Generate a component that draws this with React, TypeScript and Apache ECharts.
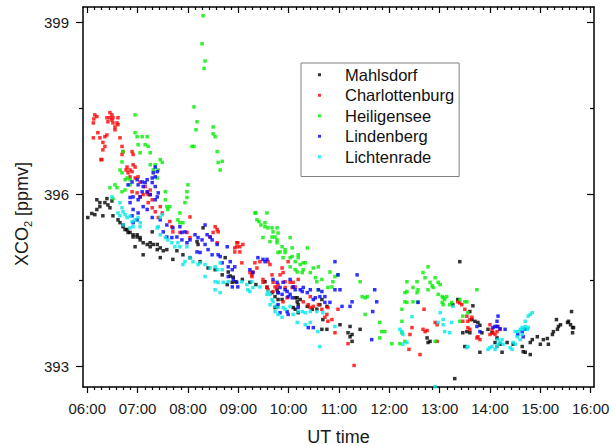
import React, { useEffect, useRef } from "react";
import * as echarts from "echarts";

// time in decimal hours (UT), XCO2 in ppmv
const seriesNames = ["Mahlsdorf", "Charlottenburg", "Heiligensee", "Lindenberg", "Lichtenrade"];
const seriesColors = ["#000000", "#ff0000", "#00ee00", "#0000ff", "#00e8e8"];

const xTickHours = [6, 7, 8, 9, 10, 11, 12, 13, 14, 15, 16];
const yTickValues = [393, 396, 399];
const yMinorValues = [394.5, 397.5];

const mahlsdorf: [number, number][] = [
  [6.01, 395.59], [6.09, 395.66], [6.15, 395.64], [6.19, 395.9], [6.19, 395.73], [6.25, 395.85], [6.25, 395.78],
  [6.31, 395.62], [6.35, 395.85], [6.39, 395.92], [6.41, 395.81], [6.45, 395.76], [6.49, 395.88], [6.51, 395.62],
  [6.61, 395.55], [6.65, 395.5], [6.71, 395.46], [6.71, 395.43], [6.75, 395.38], [6.79, 395.38], [6.81, 395.33],
  [6.85, 395.33], [6.91, 395.29], [6.91, 395.25], [6.95, 395.08], [6.99, 395.25], [6.99, 395.29], [7.05, 395.2],
  [7.05, 395.24], [7.11, 395.15], [7.11, 394.94], [7.19, 395.12], [7.25, 395.08], [7.25, 395.15], [7.29, 395.34],
  [7.31, 395.12], [7.39, 395.03], [7.39, 395.12], [7.45, 395.06], [7.45, 394.89], [7.51, 395.01], [7.58, 395.03],
  [7.7, 394.86], [7.78, 395.01], [7.9, 394.94], [8.04, 394.89], [8.18, 395.17], [8.2, 395.12], [8.24, 394.82],
  [8.3, 395.41], [8.4, 394.71], [8.54, 394.68], [8.68, 394.59], [8.74, 394.89], [8.8, 394.64], [8.84, 394.57],
  [8.9, 394.55], [8.88, 394.46], [8.78, 394.42], [8.95, 394.47], [9.08, 394.51], [9.23, 394.46], [9.35, 394.42],
  [9.53, 394.47], [9.57, 394.37], [9.67, 394.28], [9.73, 394.21], [9.77, 394.33], [9.79, 394.28], [9.79, 394.16],
  [9.73, 394.02], [9.87, 394.16], [9.77, 394.04], [10.09, 394.02], [10.13, 394.19], [10.17, 394.19], [10.17, 394.12],
  [10.19, 394.07], [10.19, 393.93], [10.13, 393.99], [10.23, 394.16], [10.37, 394.04], [10.47, 393.99], [10.56, 393.99],
  [10.62, 394.07], [10.66, 394.16], [10.76, 394.04], [10.68, 393.81], [10.66, 393.64], [10.76, 393.64], [11.02, 393.72],
  [11.18, 393.58], [11.22, 393.69], [11.26, 393.55], [11.22, 393.51], [11.26, 393.43], [11.42, 393.64], [12.75, 393.49],
  [12.77, 393.41], [12.81, 393.43], [13.26, 394.07], [13.3, 392.78], [13.36, 394.16], [13.4, 394.82], [13.46, 393.58],
  [13.5, 393.34], [13.54, 393.6], [13.6, 393.95], [13.6, 393.58], [13.64, 393.81], [13.66, 394.05], [13.7, 393.78],
  [13.76, 393.76], [13.8, 393.71], [13.8, 393.24], [13.84, 393.58], [13.96, 393.64], [14.04, 393.58], [14.1, 393.41],
  [14.14, 393.49], [14.2, 393.38], [14.24, 393.24], [14.34, 393.41], [14.46, 393.38], [14.64, 393.34], [14.66, 393.25],
  [14.7, 393.24], [14.8, 393.2], [14.8, 393.41], [14.84, 393.46], [14.94, 393.51], [15.0, 393.38], [15.06, 393.46],
  [15.14, 393.48], [15.16, 393.38], [15.24, 393.55], [15.26, 393.6], [15.34, 393.64], [15.36, 393.69], [15.32, 393.81],
  [15.4, 393.72], [15.54, 393.76], [15.56, 393.78], [15.6, 393.72], [15.62, 393.95], [15.64, 393.67], [15.66, 393.67],
  [15.64, 393.58],
];

const charlottenburg: [number, number][] = [
  [6.12, 397.24], [6.15, 397.38], [6.19, 397.35], [6.13, 397.31], [6.12, 396.98], [6.21, 397.07], [6.25, 396.98],
  [6.27, 396.6], [6.31, 396.77], [6.31, 396.9], [6.35, 396.83], [6.35, 397.0], [6.39, 397.03], [6.39, 397.33],
  [6.41, 397.26], [6.45, 397.42], [6.45, 397.33], [6.49, 397.38], [6.49, 397.29], [6.51, 397.33], [6.51, 397.24],
  [6.55, 397.17], [6.55, 397.12], [6.59, 397.24], [6.61, 397.21], [6.61, 397.33], [6.29, 396.6], [6.65, 396.98],
  [6.69, 396.83], [6.71, 396.74], [6.69, 396.69], [6.89, 396.74], [6.91, 396.69], [6.77, 396.42], [6.79, 396.47],
  [6.81, 396.37], [6.85, 396.42], [6.89, 396.39], [6.91, 396.51], [6.95, 396.47], [6.85, 396.3], [6.95, 396.28],
  [7.01, 396.3], [6.89, 396.04], [6.99, 396.02], [7.05, 396.21], [7.05, 395.95], [7.11, 395.99], [7.15, 396.13],
  [7.19, 396.02], [7.21, 395.99], [7.25, 396.07], [7.25, 395.99], [7.29, 395.9], [7.21, 395.85], [7.29, 395.76],
  [7.35, 395.69], [7.45, 395.78], [7.49, 395.67], [7.41, 395.59], [7.64, 395.52], [7.68, 395.43], [7.7, 395.34],
  [7.84, 395.33], [7.98, 395.33], [8.04, 395.6], [8.04, 395.24], [8.5, 395.33], [8.54, 395.43], [8.58, 395.38],
  [8.44, 395.25], [8.6, 395.34], [8.58, 395.15], [8.93, 395.06], [8.93, 394.99], [8.97, 395.15], [8.97, 395.08],
  [8.99, 395.15], [9.03, 395.08], [9.03, 394.99], [9.09, 395.12], [9.07, 394.8], [9.23, 394.63], [9.27, 394.59],
  [9.27, 394.56], [9.29, 394.64], [9.33, 394.8], [9.37, 394.71], [9.43, 394.82], [9.49, 394.51], [9.49, 394.46],
  [9.57, 394.38], [9.59, 394.82], [9.63, 394.77], [9.59, 394.33], [9.67, 394.59], [9.69, 394.46], [9.69, 394.3],
  [9.73, 394.38], [9.77, 394.37], [9.79, 394.42], [9.83, 394.59], [9.87, 394.71], [9.89, 394.63], [9.93, 394.47],
  [9.93, 394.37], [9.99, 394.82], [10.03, 394.46], [10.07, 394.37], [10.09, 394.46], [10.13, 394.38], [10.19, 394.51],
  [9.89, 394.12], [9.97, 394.19], [10.29, 394.12], [10.39, 394.07], [10.43, 394.02], [10.49, 394.04], [10.43, 394.21],
  [10.59, 394.07], [10.66, 393.99], [10.78, 394.02], [10.76, 393.9], [10.72, 393.85], [10.78, 393.78], [10.86, 393.81],
  [10.92, 393.58], [10.98, 393.99], [11.18, 393.39], [11.3, 393.01], [12.39, 393.29], [12.61, 393.2], [12.41, 393.55],
  [12.45, 393.67], [12.67, 393.64], [12.71, 393.6], [12.75, 393.62], [12.69, 393.99], [12.91, 393.76], [12.95, 393.72],
  [12.95, 393.43], [13.36, 394.12], [13.4, 394.1], [13.44, 394.07], [13.5, 393.99], [13.54, 393.87], [13.6, 393.81],
  [13.56, 393.78], [13.64, 393.85], [13.46, 393.78], [13.56, 393.67], [13.6, 393.64], [13.74, 393.49], [13.76, 393.51],
  [13.8, 393.46], [14.0, 393.72], [14.0, 393.55], [14.04, 393.64], [14.06, 393.58], [14.1, 393.55], [14.14, 393.6],
  [14.16, 393.69], [14.2, 393.64], [14.14, 393.34],
];

const heiligensee: [number, number][] = [
  [8.3, 399.11], [8.28, 398.62], [8.34, 398.32], [8.32, 398.19], [8.12, 397.52], [8.18, 397.26], [8.16, 397.12],
  [8.5, 397.17], [8.5, 397.05], [8.54, 397.0], [8.08, 396.83], [8.12, 396.83], [8.58, 396.74], [8.6, 396.55],
  [8.68, 396.57], [8.64, 396.42], [6.95, 397.38], [6.95, 397.07], [6.99, 397.0], [7.09, 397.0], [7.19, 397.0],
  [7.15, 396.86], [7.01, 396.86], [7.21, 396.83], [7.05, 396.72], [7.25, 396.72], [6.71, 396.74], [6.69, 396.56],
  [6.65, 396.42], [7.25, 396.51], [7.35, 396.51], [7.45, 396.6], [7.49, 396.55], [7.41, 396.42], [7.31, 396.42],
  [6.69, 396.37], [6.55, 396.16], [6.45, 396.11], [6.59, 396.11], [6.51, 395.92], [6.69, 396.04], [6.75, 396.07],
  [6.85, 396.16], [6.75, 396.25], [6.79, 396.28], [6.85, 396.25], [7.39, 396.28], [7.55, 396.04], [7.55, 395.9],
  [7.58, 395.78], [7.6, 395.73], [7.64, 395.78], [7.84, 395.67], [7.8, 395.55], [7.84, 395.5], [7.9, 395.5],
  [7.94, 395.85], [7.98, 395.94], [7.98, 396.04], [8.0, 396.16], [9.35, 395.67], [9.37, 395.55], [9.41, 395.52],
  [9.57, 395.67], [9.33, 395.67], [9.45, 395.46], [9.53, 395.5], [9.53, 395.43], [9.59, 395.41], [9.67, 395.41],
  [9.69, 395.34], [9.77, 395.41], [9.73, 395.25], [9.79, 395.32], [9.77, 395.2], [9.67, 395.25], [9.49, 395.24],
  [9.63, 395.17], [9.77, 395.15], [9.87, 395.08], [9.83, 394.99], [9.93, 394.98], [9.89, 394.89], [10.07, 394.91],
  [10.13, 394.82], [10.03, 394.73], [10.13, 394.68], [10.17, 394.64], [10.27, 394.63], [10.29, 394.8], [10.19, 394.94],
  [10.03, 395.24], [9.79, 394.98], [9.93, 395.03], [10.07, 395.06], [10.03, 394.89], [10.19, 394.89], [10.23, 394.77],
  [10.33, 394.8], [10.37, 395.06], [10.29, 394.68], [10.49, 394.71], [10.59, 394.73], [10.43, 394.63], [10.53, 394.54],
  [10.56, 394.47], [10.66, 394.51], [10.82, 394.64], [10.92, 394.56], [10.88, 394.47], [10.98, 394.59], [10.86, 394.38],
  [10.78, 394.37], [10.59, 394.33], [11.42, 394.47], [11.52, 394.19], [11.46, 394.21], [11.56, 394.21], [11.52, 393.9],
  [11.81, 393.76], [11.85, 393.6], [11.91, 393.6], [11.81, 393.49], [12.05, 393.39], [12.21, 393.39], [12.31, 393.43],
  [12.25, 393.78], [12.25, 393.58], [12.25, 393.99], [12.31, 394.28], [12.35, 394.47], [12.31, 394.12], [12.35, 394.3],
  [12.35, 394.11], [12.47, 394.37], [12.55, 394.47], [12.57, 394.33], [12.55, 394.28], [12.47, 394.12], [12.57, 394.12],
  [12.67, 394.63], [12.71, 394.54], [12.77, 394.73], [12.81, 394.46], [12.85, 394.4], [12.87, 394.37], [12.77, 394.33],
  [12.91, 394.54], [12.97, 394.46], [13.01, 394.42], [12.97, 394.25], [13.05, 394.21], [13.07, 394.19], [13.1, 394.16],
  [13.14, 394.21], [13.05, 394.11], [13.07, 394.07], [13.2, 394.07], [13.24, 394.11], [13.4, 394.16], [13.5, 394.12],
  [13.54, 394.12], [13.56, 393.93], [13.46, 393.87], [13.4, 393.78], [13.74, 394.33], [12.91, 393.43],
];

const lindenberg: [number, number][] = [
  [6.81, 396.16], [6.89, 396.21], [6.99, 396.25], [7.09, 396.21], [7.15, 396.2], [7.19, 396.25], [7.29, 396.2],
  [7.31, 396.37], [7.35, 396.3], [7.35, 396.47], [7.39, 396.39], [7.29, 396.28], [7.01, 396.16], [7.11, 396.13],
  [7.35, 396.13], [7.09, 396.04], [7.19, 396.04], [7.05, 395.95], [7.25, 395.99], [6.91, 395.95], [6.85, 395.94],
  [7.39, 395.95], [7.35, 395.9], [7.01, 395.9], [7.41, 396.02], [7.11, 395.78], [6.91, 395.73], [7.01, 395.67],
  [6.85, 395.85], [7.19, 395.73], [6.89, 395.62], [6.99, 395.55], [6.91, 395.5], [7.29, 395.59], [7.45, 395.55],
  [7.58, 395.46], [7.7, 395.41], [7.51, 395.34], [7.58, 395.25], [7.68, 395.24], [7.78, 395.25], [7.84, 395.43],
  [7.88, 395.33], [7.94, 395.34], [7.88, 395.2], [7.98, 395.15], [8.04, 395.2], [8.14, 395.29], [8.2, 395.24],
  [8.34, 395.46], [8.38, 395.29], [8.44, 395.25], [8.48, 395.2], [8.28, 395.2], [8.34, 395.12], [8.58, 395.12],
  [8.18, 394.99], [8.24, 394.98], [8.4, 395.03], [8.48, 394.94], [8.6, 394.94], [8.64, 394.91], [8.78, 395.08],
  [8.68, 394.8], [8.84, 394.82], [8.8, 394.73], [8.88, 394.68], [8.93, 394.73], [8.8, 394.56], [8.9, 394.51],
  [8.97, 394.46], [8.99, 394.38], [8.88, 394.38], [9.39, 394.89], [9.49, 394.86], [9.57, 394.86], [9.53, 394.82],
  [9.23, 394.68], [9.29, 394.63], [9.69, 394.51], [9.77, 394.46], [9.79, 394.28], [9.83, 394.37], [9.87, 394.25],
  [9.89, 394.46], [9.93, 394.33], [9.97, 394.3], [10.03, 394.51], [10.03, 394.25], [10.07, 394.19], [10.09, 394.38],
  [10.13, 394.33], [9.99, 394.21], [10.23, 394.33], [10.27, 394.3], [10.29, 394.37], [10.37, 394.28], [10.43, 394.33],
  [10.49, 394.16], [10.53, 394.19], [10.62, 394.21], [10.59, 394.33], [10.66, 394.3], [10.72, 394.21], [10.72, 394.11],
  [10.82, 394.11], [9.79, 394.07], [9.83, 393.93], [9.97, 393.95], [9.99, 393.9], [10.19, 394.02], [10.39, 393.67],
  [10.49, 393.67], [10.92, 394.82], [10.98, 394.59], [10.92, 394.33], [11.02, 394.33], [11.06, 394.04], [11.22, 394.04],
  [11.26, 394.12], [11.36, 394.59], [11.71, 394.33], [11.75, 394.12], [11.67, 393.95], [11.65, 393.46], [12.57, 394.11],
  [13.74, 393.69], [13.8, 393.6], [14.06, 393.67], [14.1, 393.69], [14.14, 393.78], [14.16, 393.87], [14.14, 393.69],
  [14.2, 393.65], [14.3, 393.64], [14.55, 393.55], [14.64, 393.6], [14.66, 393.51], [14.7, 393.64],
];

const lichtenrade: [number, number][] = [
  [6.49, 395.95], [6.61, 395.67], [6.65, 395.85], [6.69, 395.76], [6.71, 395.69], [6.65, 395.62], [6.75, 395.64],
  [6.79, 395.59], [6.85, 395.61], [6.89, 395.52], [6.95, 395.55], [7.01, 395.59], [7.05, 395.5], [6.71, 395.46],
  [6.85, 395.41], [6.91, 395.43], [7.05, 395.43], [7.39, 395.41], [7.41, 395.43], [7.45, 395.59], [7.49, 395.64],
  [7.45, 395.29], [7.55, 395.24], [7.6, 395.2], [7.68, 395.15], [7.74, 395.08], [7.8, 395.15], [7.84, 395.08],
  [7.98, 395.08], [7.94, 394.82], [7.9, 394.77], [8.04, 394.89], [8.1, 394.82], [8.2, 394.77], [8.24, 394.8],
  [8.34, 394.77], [8.44, 394.71], [8.54, 394.73], [8.64, 394.8], [8.58, 394.68], [8.68, 394.68], [8.54, 394.47],
  [8.6, 394.46], [8.7, 394.46], [8.34, 394.56], [8.54, 394.33], [8.64, 394.28], [8.8, 394.47], [9.07, 394.47],
  [9.17, 394.42], [9.19, 394.33], [9.29, 394.37], [9.23, 394.3], [9.27, 394.47], [9.43, 394.38], [9.57, 394.25],
  [9.59, 394.3], [9.63, 394.25], [9.67, 394.16], [9.69, 394.12], [9.63, 394.07], [9.73, 394.04], [9.79, 394.02],
  [9.89, 394.02], [10.03, 394.04], [9.73, 393.95], [9.79, 393.9], [9.87, 393.85], [9.93, 393.99], [10.09, 393.9],
  [10.19, 393.95], [10.27, 393.95], [10.33, 393.93], [10.43, 393.95], [10.56, 393.95], [10.68, 393.93], [10.43, 393.76],
  [10.33, 393.72], [10.17, 393.76], [10.58, 393.6], [10.92, 393.69], [10.62, 393.34], [12.21, 393.64], [12.25, 393.6],
  [12.27, 393.55], [12.35, 393.41], [12.27, 393.38], [12.45, 393.86], [12.91, 392.64], [13.01, 393.93], [12.97, 393.76],
  [13.07, 393.72], [13.07, 393.81], [13.1, 393.6], [13.2, 393.58], [13.24, 393.76], [13.26, 394.04], [13.54, 393.32],
  [13.56, 393.34], [13.96, 393.29], [14.0, 393.32], [14.04, 393.34], [14.1, 393.29], [14.14, 393.34], [14.16, 393.38],
  [14.2, 393.41], [14.24, 393.46], [14.16, 393.46], [14.26, 393.38], [14.4, 393.32], [14.44, 393.29], [14.5, 393.38],
  [14.46, 393.41], [14.54, 393.51], [14.5, 393.6], [14.56, 393.6], [14.6, 393.64], [14.64, 393.67], [14.66, 393.64],
  [14.7, 393.69], [14.74, 393.64], [14.76, 393.67], [14.7, 393.78], [14.76, 393.87], [14.8, 393.9], [14.84, 393.93],
  [14.64, 393.55], [14.6, 393.46],
];

const seriesData = [mahlsdorf, charlottenburg, heiligensee, lindenberg, lichtenrade];

const X_MIN = 5.915;
const X_MAX = 16.066;
const Y_MIN = 392.634;
const Y_MAX = 399.262;

const FONT = "'Liberation Sans', Arial, Helvetica, sans-serif";

export default function App() {
  const ref = useRef<HTMLDivElement>(null);

  useEffect(() => {
    if (!ref.current) return;
    const chart = echarts.init(ref.current, null, { renderer: "svg" });

    const xMinor: number[] = [];
    for (let i = 0; i < xTickHours.length - 1; i++) {
      for (let k = 1; k < 7; k++) xMinor.push(xTickHours[i] + k / 7);
    }
    const lineStyle = { color: "#000", width: 1.5 };
    const tickStyle = { color: "#000", width: 1.2 };

    const baseX = {
      type: "value" as const,
      min: X_MIN,
      max: X_MAX,
      splitLine: { show: false },
    };
    const baseY = {
      type: "value" as const,
      min: Y_MIN,
      max: Y_MAX,
      splitLine: { show: false },
    };

    const option: any = {
      animation: false,
      backgroundColor: "#ffffff",
      textStyle: { fontFamily: FONT },
      grid: { left: 83, top: 7, width: 511, height: 380, containLabel: false, outerBoundsMode: "none" },
      legend: {
        orient: "vertical",
        left: 301,
        top: 63,
        padding: [1.5, 5, 9.5, 17],
        itemGap: 0,
        itemWidth: 3,
        itemHeight: 3,
        icon: "rect",
        borderColor: "#808080",
        borderWidth: 1,
        selectedMode: false,
        data: seriesNames,
        textStyle: {
          fontFamily: FONT,
          fontSize: 16.5,
          color: "#111",
          lineHeight: 20.5,
          padding: [0, 0, 0, 19],
        },
      },
      xAxis: [
        {
          ...baseX,
          position: "bottom",
          axisLine: { show: true, onZero: false, lineStyle },
          axisTick: { show: true, inside: false, length: 6, customValues: xTickHours, lineStyle: tickStyle },
          axisLabel: {
            show: true,
            customValues: xTickHours,
            margin: 14,
            fontSize: 15,
            fontFamily: FONT,
            color: "#1a1a1a",
            formatter: (v: number) => (v < 10 ? "0" : "") + Math.round(v) + ":00",
          },
          name: "UT time",
          nameLocation: "middle",
          nameGap: 41,
          nameTextStyle: { fontSize: 18, fontFamily: FONT, color: "#1a1a1a" },
        },
        {
          ...baseX,
          position: "bottom",
          axisLine: { show: false, onZero: false },
          axisTick: { show: true, inside: false, length: 3, customValues: xMinor, lineStyle: tickStyle },
          axisLabel: { show: false },
        },
        {
          ...baseX,
          position: "top",
          axisLine: { show: true, onZero: false, lineStyle },
          axisTick: { show: true, inside: true, length: 6, customValues: xTickHours, lineStyle: tickStyle },
          axisLabel: { show: false },
        },
        {
          ...baseX,
          position: "top",
          axisLine: { show: false, onZero: false },
          axisTick: { show: true, inside: true, length: 3, customValues: xMinor, lineStyle: tickStyle },
          axisLabel: { show: false },
        },
      ],
      yAxis: [
        {
          ...baseY,
          position: "left",
          axisLine: { show: true, onZero: false, lineStyle },
          axisTick: { show: true, inside: false, length: 7, customValues: yTickValues, lineStyle: tickStyle },
          axisLabel: {
            show: true,
            customValues: yTickValues,
            margin: 14,
            fontSize: 15,
            fontFamily: FONT,
            color: "#1a1a1a",
          },
          name: "{a|XCO}{s|2}{a| [ppmv]}",
          nameLocation: "middle",
          nameGap: 48,
          nameTextStyle: {
            fontFamily: FONT,
            color: "#1a1a1a",
            padding: [0, 34, 0, 0],
            rich: {
              a: { fontSize: 18, fontFamily: FONT, color: "#1a1a1a", lineHeight: 22 },
              s: { fontSize: 11, fontFamily: FONT, color: "#1a1a1a", lineHeight: 22, verticalAlign: "bottom" },
            },
          },
        },
        {
          ...baseY,
          position: "left",
          axisLine: { show: false, onZero: false },
          axisTick: { show: true, inside: false, length: 4, customValues: yMinorValues, lineStyle: tickStyle },
          axisLabel: { show: false },
        },
        {
          ...baseY,
          position: "right",
          axisLine: { show: true, onZero: false, lineStyle },
          axisTick: { show: true, inside: true, length: 7, customValues: yTickValues, lineStyle: tickStyle },
          axisLabel: { show: false },
        },
        {
          ...baseY,
          position: "right",
          axisLine: { show: false, onZero: false },
          axisTick: { show: true, inside: true, length: 4, customValues: yMinorValues, lineStyle: tickStyle },
          axisLabel: { show: false },
        },
      ],
      series: seriesNames.map((name, i) => ({
        name,
        type: "scatter",
        xAxisIndex: 0,
        yAxisIndex: 0,
        data: seriesData[i],
        symbol: "rect",
        symbolSize: 3.5,
        itemStyle: { color: seriesColors[i] },
        silent: true,
        clip: false,
        emphasis: { disabled: true },
      })),
    };

    chart.setOption(option);
    return () => chart.dispose();
  }, []);

  return (
    <div
      ref={ref}
      style={{ position: "absolute", left: 0, top: 0, width: 613, height: 446, background: "#fff" }}
    />
  );
}
